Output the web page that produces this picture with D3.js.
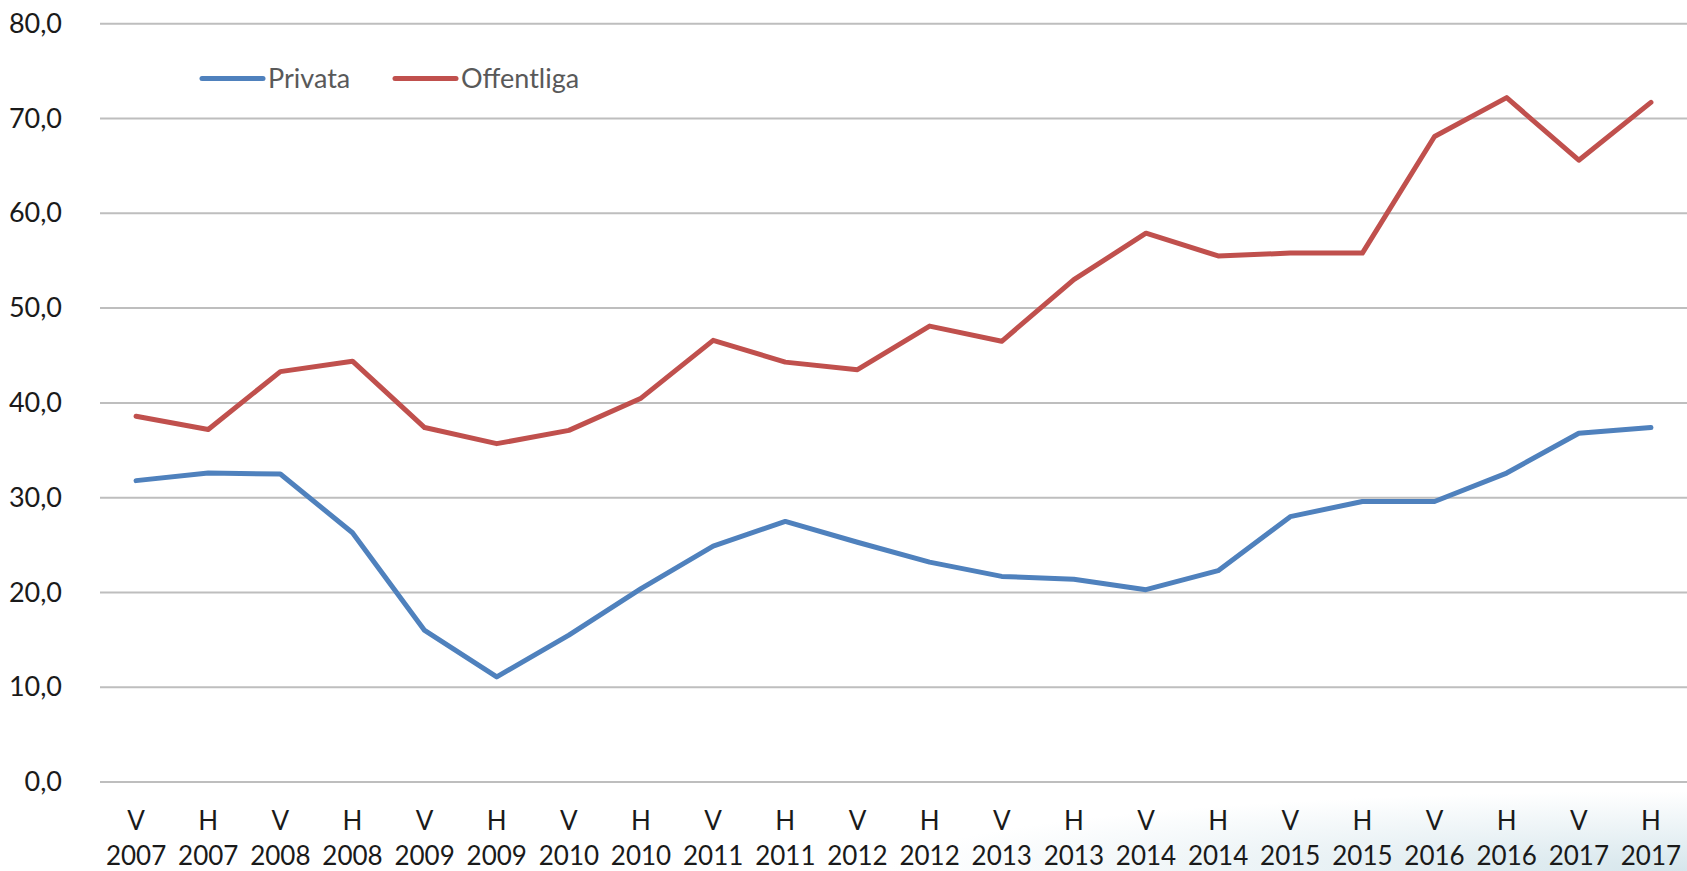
<!DOCTYPE html>
<html><head><meta charset="utf-8">
<script src="https://cdn.jsdelivr.net/npm/d3@7"></script>
<style>
html,body{margin:0;padding:0;background:#fff;overflow:hidden;}
svg{display:block;}
</style></head>
<body>
<svg id="chart" width="1687" height="871"></svg>
<script>
const periods = ["V","H","V","H","V","H","V","H","V","H","V","H","V","H","V","H","V","H","V","H","V","H"];
const years = ["2007","2007","2008","2008","2009","2009","2010","2010","2011","2011","2012","2012","2013","2013","2014","2014","2015","2015","2016","2016","2017","2017"];
const privata = [31.8,32.6,32.5,26.3,16.0,11.1,15.5,20.4,24.9,27.5,25.3,23.2,21.7,21.4,20.3,22.3,28.0,29.6,29.6,32.6,36.8,37.4];
const offentliga = [38.6,37.2,43.3,44.4,37.4,35.7,37.1,40.5,46.6,44.3,43.5,48.1,46.5,53.0,57.9,55.5,55.8,55.8,68.1,72.2,65.6,71.7];
const yTicks = [0,10,20,30,40,50,60,70,80];
const seriesNames = ["Privata","Offentliga"];
const seriesColors = ["#4F81BD","#C0504D"];

(function(){
const svg = d3.select("#chart");
const W = 1687, H = 871;
const mLeft = 100, mRight = 1687, mTop = 23.7, mBottom = 782.1;

const defs = svg.append("defs");
const grad = defs.append("radialGradient").attr("id","bg")
  .attr("gradientUnits","userSpaceOnUse")
  .attr("cx",1687).attr("cy",871).attr("r",800)
  .attr("gradientTransform","translate(1687,871) scale(1,0.1) translate(-1687,-871)");
grad.append("stop").attr("offset","0").attr("stop-color","#d6e6ec");
grad.append("stop").attr("offset","1").attr("stop-color","#ffffff");
svg.append("rect").attr("width",W).attr("height",H).attr("fill","#fff");
svg.append("rect").attr("y",780).attr("width",W).attr("height",H-780).attr("fill","url(#bg)");

const idx = d3.range(periods.length);
const x = d3.scaleBand().domain(idx).range([mLeft, mRight]);
const y = d3.scaleLinear().domain([0,80]).range([mBottom, mTop]);
const cx = i => x(i) + x.bandwidth()/2;

const font = "Lato,'Open Sans',sans-serif";

svg.append("g").selectAll("line").data(yTicks).join("line")
  .attr("x1", mLeft).attr("x2", mRight)
  .attr("y1", d => y(d)).attr("y2", d => y(d))
  .attr("stroke", "#BEBEBE").attr("stroke-width", 2);

const yAxis = d3.axisLeft(y).tickValues(yTicks).tickSize(0).tickPadding(0)
  .tickFormat(d => d3.format(".1f")(d).replace(".", ","));
const gy = svg.append("g").attr("transform", `translate(62,0)`).call(yAxis);
gy.select(".domain").remove();
gy.selectAll("text").attr("font-family", font).attr("font-size", 27).attr("fill", "#1a1a1a");

const xAxis = d3.axisBottom(x).tickSize(0).tickFormat(() => "");
const gx = svg.append("g").attr("transform", `translate(0,${mBottom})`).call(xAxis);
gx.select(".domain").remove();
gx.selectAll(".tick").each(function(i){
  const t = d3.select(this).select("text");
  t.text(null).attr("y", 0).attr("dy", null)
    .attr("font-family", font).attr("font-size", 26).attr("fill", "#1a1a1a");
  t.append("tspan").attr("x", 0).attr("y", 48).text(periods[i]);
  t.append("tspan").attr("x", 0).attr("y", 83).text(years[i]);
});

const line = d3.line().x((d,i) => cx(i)).y(d => y(d));
[privata, offentliga].forEach((s, k) => {
  svg.append("path").datum(s)
    .attr("fill","none").attr("stroke", seriesColors[k])
    .attr("stroke-width", 5).attr("stroke-linejoin","round").attr("stroke-linecap","round")
    .attr("d", line);
});

const legendX = [202, 395];
const lg = svg.append("g");
seriesNames.forEach((n, k) => {
  lg.append("line").attr("x1", legendX[k]).attr("x2", legendX[k]+61)
    .attr("y1", 78.5).attr("y2", 78.5)
    .attr("stroke", seriesColors[k]).attr("stroke-width", 5).attr("stroke-linecap","round");
  lg.append("text").attr("x", legendX[k]+66).attr("y", 78.5).attr("dy","0.35em")
    .attr("font-family", font).attr("font-size", 27).attr("fill", "#595959").text(n);
});
})();
</script>
</body></html>
